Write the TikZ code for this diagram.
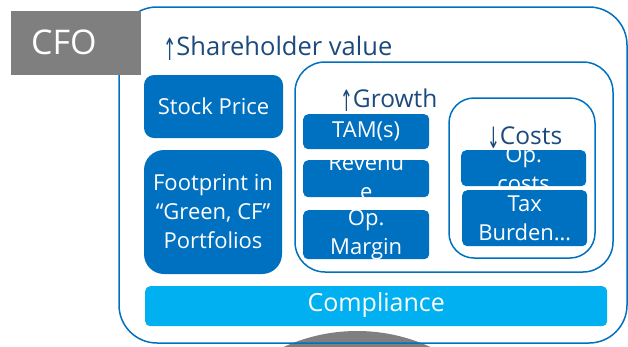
\documentclass[tikz,border=0pt]{standalone}
\usepackage{fontspec}
\setmainfont{Open Sans}
\newfontfamily\arrowfont{DejaVu Sans}
\newcommand{\uparr}{\raisebox{-0.2em}{\scalebox{0.62}[1.2]{\arrowfont ↑}}}
\newcommand{\downarr}{\raisebox{-0.2em}{\scalebox{0.62}[1.2]{\arrowfont ↓}}}
\definecolor{cblue}{HTML}{0070C0}
\definecolor{cdark}{HTML}{1C4A7C}
\definecolor{clight}{HTML}{00B0F0}
\definecolor{cgray}{HTML}{7F7F7F}
\tikzset{
  frame/.style={draw=cblue, line width=1.5pt},
  bluebox/.style={fill=cblue, draw=none, inner sep=0pt},
  boxtext/.style={text=white, align=center, inner sep=0pt, font=\fontsize{22}{29}\selectfont},
  heading/.style={text=cdark, inner sep=0pt, anchor=base west},
}
\begin{document}
\begin{tikzpicture}[x=1pt, y=-1pt]
\useasboundingbox (0,0) rectangle (628,346);
\begin{scope}
\clip (0,0) rectangle (628,346);
% gray half-disc at the bottom
\fill[cgray] (357,507) circle (176);
% outer frame
\draw[frame, rounded corners=38] (119,7) rectangle (627,343);
\end{scope}
% CFO label
\node[fill=cgray, minimum width=130pt, minimum height=64pt, inner sep=0pt, anchor=north west] (cfo) at (11,11) {};
\node[text=white, inner sep=0pt, anchor=base west, font=\fontsize{34}{40}\selectfont] (cfot) at (31,54) {CFO};
% heading
\node[heading, font=\fontsize{25.5}{30}\selectfont] (sh) at (163,55) {\uparr Shareholder value};
% left boxes
\draw[bluebox, rounded corners=10] (144,75) rectangle (283,138) node[midway, boxtext] (stock) {Stock Price};
\draw[bluebox, rounded corners=20] (144,150) rectangle (282,274) node[midway, boxtext] (foot) {Footprint in\\“Green, CF”\\Portfolios};
% growth frame
\draw[frame, rounded corners=30] (295,62) rectangle (613,272);
\node[heading, font=\fontsize{24.5}{30}\selectfont] (growth) at (340,107) {\uparr Growth};
% growth items
\node[bluebox, rounded corners=5, minimum width=126pt, minimum height=35pt, anchor=north west] (tam) at (303,114) {};
\node[bluebox, rounded corners=5, minimum width=126pt, minimum height=37pt, anchor=north west] (rev) at (303,160) {};
\node[bluebox, rounded corners=5, minimum width=126pt, minimum height=49pt, anchor=north west] (opm) at (303,210) {};
\node[boxtext] (tamt) at (tam.center) {TAM(s)};
\begin{scope}
\clip[rounded corners=5] (rev.north west) rectangle (rev.south east);
\node[boxtext] (revt) at ([yshift=1.5pt]rev.center) {Revenu\\e};
\end{scope}
\begin{scope}
\clip[rounded corners=5] (opm.north west) rectangle (opm.south east);
\node[boxtext] (opmt) at ([yshift=0.5pt]opm.center) {Op.\\Margin};
\end{scope}
% costs frame
\draw[frame, rounded corners=25] (449,98) rectangle (595,258);
\node[heading, font=\fontsize{24.5}{30}\selectfont] (costs) at (487,144) {\downarr Costs};
\node[bluebox, rounded corners=5, minimum width=125pt, minimum height=36pt, anchor=north west] (opc) at (461,150) {};
\node[bluebox, rounded corners=5, minimum width=125pt, minimum height=56pt, anchor=north west] (tax) at (462,190) {};
\begin{scope}
\clip[rounded corners=5] (opc.north west) rectangle (opc.south east);
\node[boxtext] (opct) at ([yshift=-1pt]opc.center) {Op.\\costs};
\end{scope}
\node[boxtext] (taxt) at (tax.center) {Tax\\Burden…};
% compliance bar
\node[fill=clight, rounded corners=5, minimum width=462pt, minimum height=40pt, inner sep=0pt, anchor=north west] (comp) at (145,286) {};
\node[text=white, inner sep=0pt, font=\fontsize{25}{30}\selectfont] (compt) at ([yshift=1.5pt]comp.center) {Compliance};
\end{tikzpicture}
\end{document}
